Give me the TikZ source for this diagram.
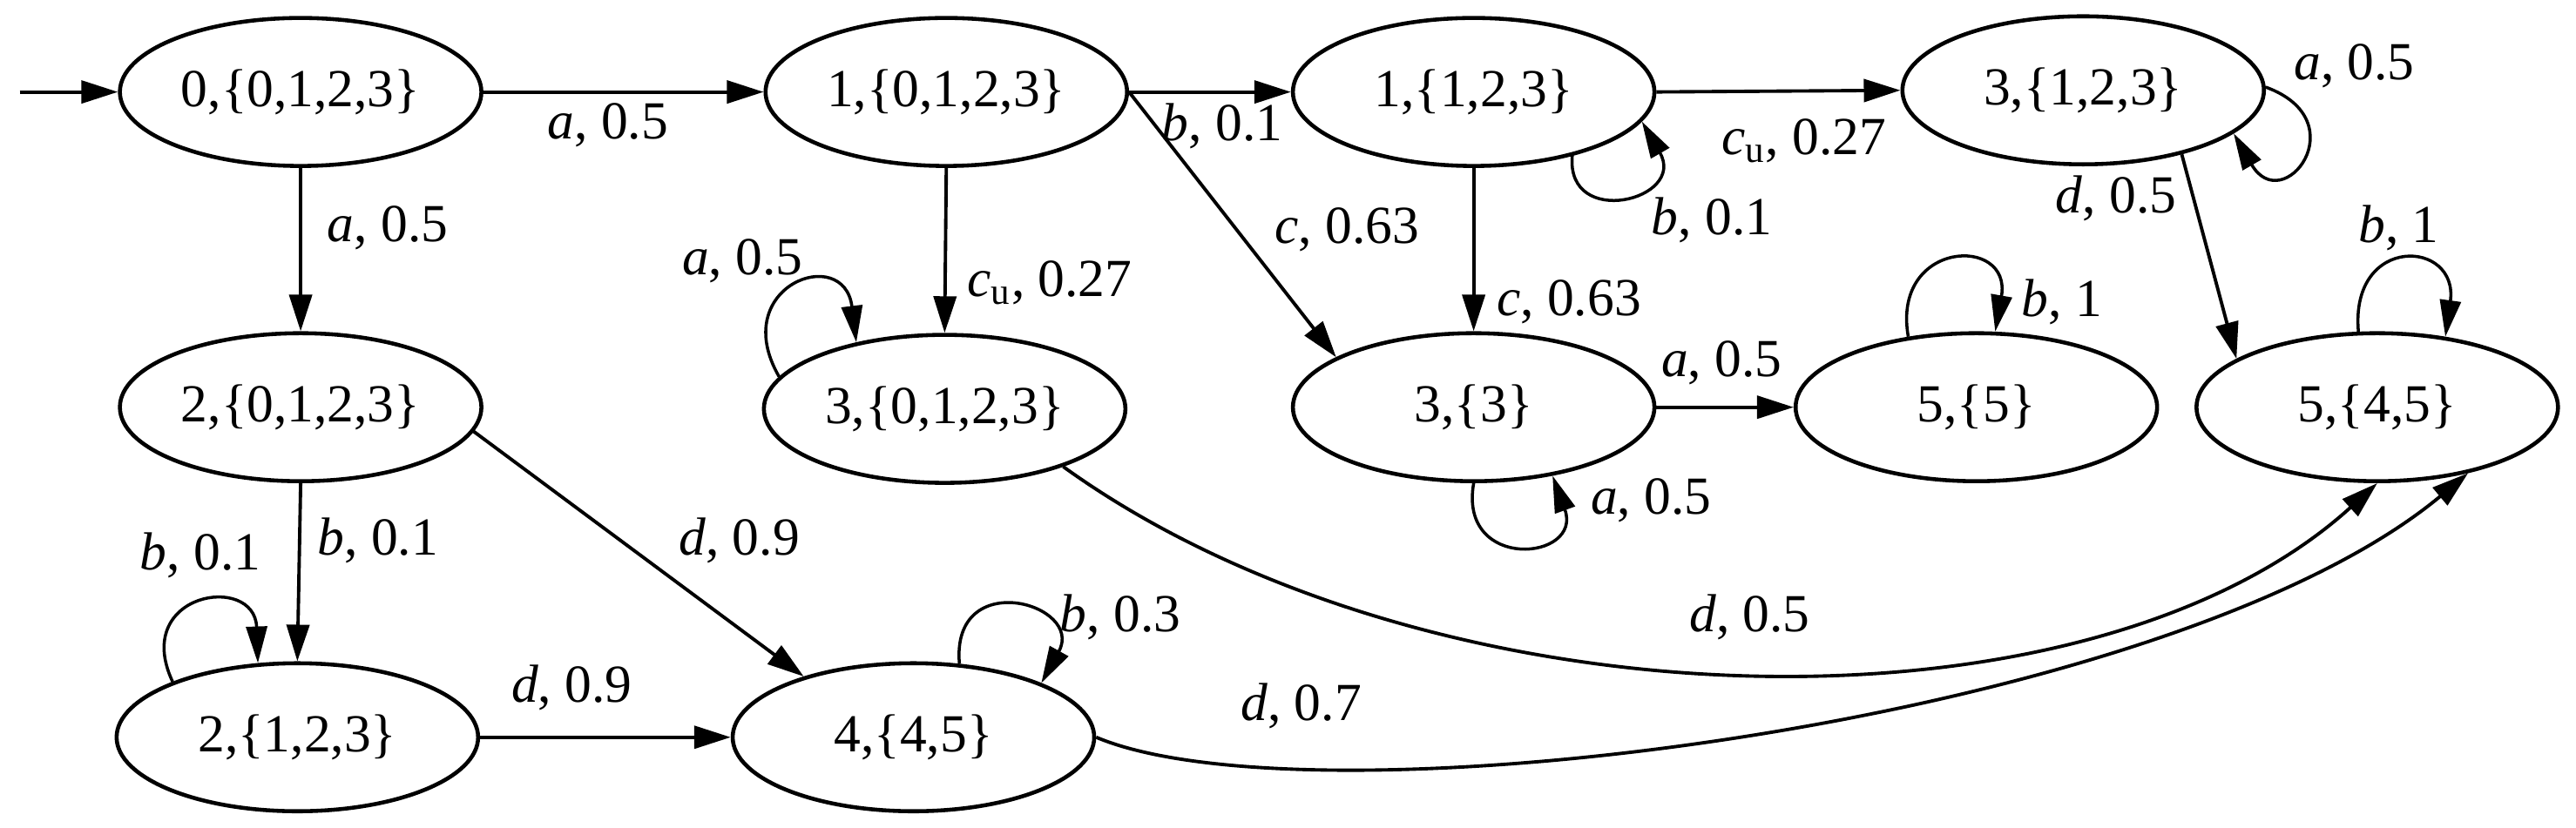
\documentclass[tikz,border=0pt]{standalone}
\usepackage{fontspec}
\setmainfont{Liberation Serif}
\usetikzlibrary{shapes.geometric,arrows.meta}
\begin{document}
\begin{tikzpicture}[x=0.018858cm,y=0.018858cm,
  font=\fontsize{17.5}{21}\selectfont,
  st/.style={ellipse,draw,line width=1.3pt,inner sep=0pt,minimum width=4.15cm,minimum height=1.70cm},
  tr/.style={line width=1.1pt,-{Triangle[length=0.42cm,width=0.26cm]}},
  lp/.style={line width=1.0pt,-{Triangle[length=0.42cm,width=0.24cm]}},
  lbl/.style={inner sep=0pt}]
\useasboundingbox (0,0) rectangle (1568,-504);
% states
\node[st] (n0) at (183,-56) {0,\{0,1,2,3\}};
\node[st] (n1) at (576,-56) {1,\{0,1,2,3\}};
\node[st] (n2) at (897,-56) {1,\{1,2,3\}};
\node[st] (n3) at (1268,-55) {3,\{1,2,3\}};
\node[st] (n4) at (183,-248) {2,\{0,1,2,3\}};
\node[st] (n5) at (575,-249) {3,\{0,1,2,3\}};
\node[st] (n6) at (897,-248) {3,\{3\}};
\node[st] (n7) at (1203,-248) {5,\{5\}};
\node[st] (n8) at (1447,-248) {5,\{4,5\}};
\node[st] (n9) at (181,-449) {2,\{1,2,3\}};
\node[st] (n10) at (556,-449) {4,\{4,5\}};
\coordinate (start) at (12,-56);
% straight edges
\draw[tr] (start) -- (n0.west);
\draw[tr] (n0.east) -- (n1.west);
\draw[tr] (n0.south) -- (n4.north);
\draw[tr] (n1.east) -- (n2.west);
\draw[tr] (n1.south) -- (n5.north);
\draw[tr] (n1.east) -- (n6.160);
\draw[tr] (n2.east) -- (n3.west);
\draw[tr] (n2.south) -- (n6.north);
\draw[tr] (n3.-33) -- (n8.161);
\draw[tr] (n6.east) -- (n7.west);
\draw[tr] (n4.south) -- (n9.north);
\draw[tr] (n4.-8) -- (n10.151);
\draw[tr] (n9.east) -- (n10.west);
% curved edges
\draw[tr] (n5.-26) .. controls (870,-445) and (1270,-455) .. (n8.-90);
\draw[tr] (n10.east) .. controls (800,-505) and (1320,-440) .. (n8.-36);
% loops
\draw[lp] (n5.169) .. controls +(120:1.2cm) and +(97:1.15cm) .. (n5.143);
\draw[lp] (n2.-33) .. controls +(-95:0.85cm) and +(-60:1.04cm) .. (n2.-10);
\draw[lp] (n3.1) .. controls +(-20:1.13cm) and +(-60:1.13cm) .. (n3.-16);
\draw[lp] (n6.-90) .. controls +(-100:1.04cm) and +(-70:1.04cm) .. (n6.-41);
\draw[lp] (n7.134) .. controls +(100:1.13cm) and +(80:1.13cm) .. (n7.76);
\draw[lp] (n8.104) .. controls +(95:1.13cm) and +(82:1.13cm) .. (n8.46);
\draw[lp] (n9.156) .. controls +(115:1.13cm) and +(92:1.04cm) .. (n9.118);
\draw[lp] (n10.58) .. controls +(95:1.13cm) and +(61:1.04cm) .. (n10.23);
% labels
\node[lbl] (l1) at (370,-76) {\textit{a}, 0.5};
\node[lbl] (l2) at (236,-139) {\textit{a}, 0.5};
\node[lbl] (l3) at (744,-77) {\textit{b}, 0.1};
\node[lbl] (l4) at (639,-172) {\textit{c}\textsubscript{u}, 0.27};
\node[lbl] (l5) at (820,-140) {\textit{c}, 0.63};
\node[lbl] (l6) at (452,-159) {\textit{a}, 0.5};
\node[lbl] (l7) at (1098,-86) {\textit{c}\textsubscript{u}, 0.27};
\node[lbl] (l8) at (1042,-134) {\textit{b}, 0.1};
\node[lbl] (l9) at (955,-184) {\textit{c}, 0.63};
\node[lbl] (l10) at (1433,-40) {\textit{a}, 0.5};
\node[lbl] (l11) at (1288,-121) {\textit{d}, 0.5};
\node[lbl] (l12) at (1460,-139) {\textit{b}, 1};
\node[lbl] (l13) at (1255,-184) {\textit{b}, 1};
\node[lbl] (l14) at (1048,-221) {\textit{a}, 0.5};
\node[lbl] (l15) at (1005,-305) {\textit{a}, 0.5};
\node[lbl] (l16) at (122,-338) {\textit{b}, 0.1};
\node[lbl] (l17) at (230,-329) {\textit{b}, 0.1};
\node[lbl] (l18) at (450,-329) {\textit{d}, 0.9};
\node[lbl] (l19) at (682,-376) {\textit{b}, 0.3};
\node[lbl] (l20) at (348,-419) {\textit{d}, 0.9};
\node[lbl] (l21) at (1065,-376) {\textit{d}, 0.5};
\node[lbl] (l22) at (792,-430) {\textit{d}, 0.7};
\end{tikzpicture}
\end{document}
